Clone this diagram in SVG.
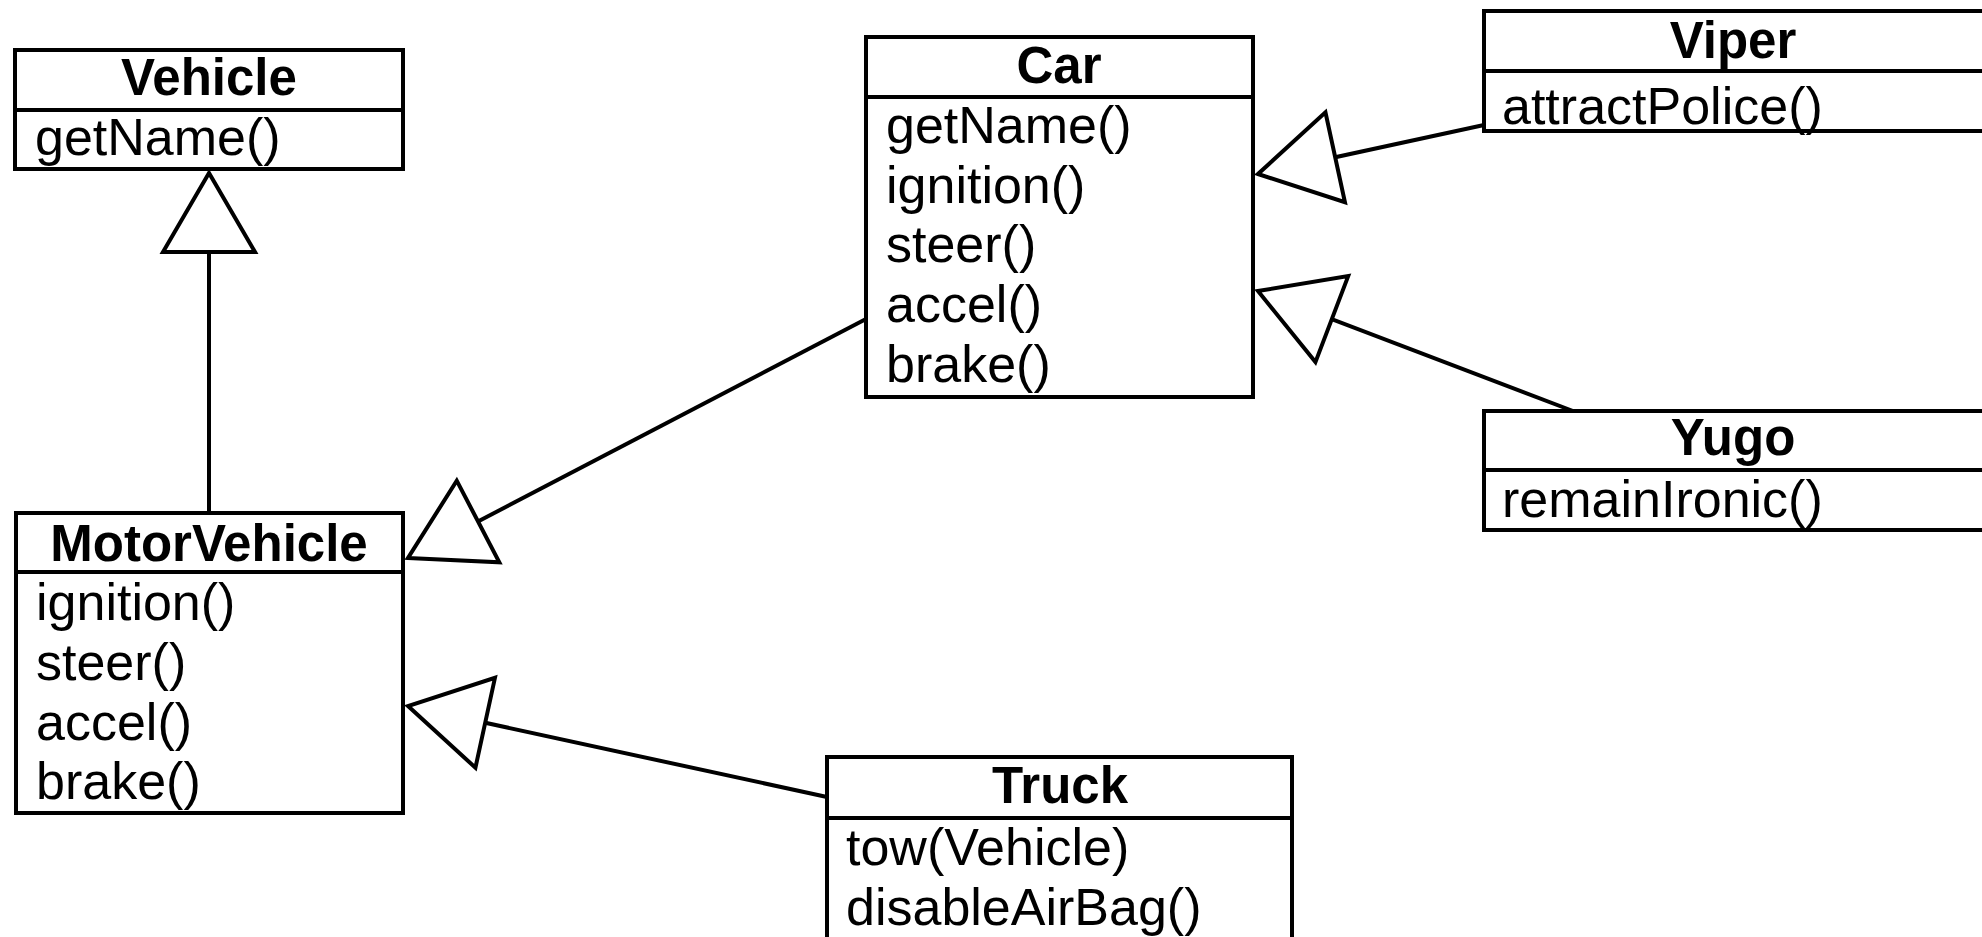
<svg xmlns="http://www.w3.org/2000/svg" width="1982" height="937" viewBox="0 0 1982 937">
  <style>
    .box { fill: #ffffff; stroke: #000000; stroke-width: 4; }
    .sep { stroke: #000000; stroke-width: 4; }
    .title { font-family: "Liberation Sans", Arial, Helvetica, sans-serif; font-weight: bold; font-size: 51px; fill: #000000; text-anchor: middle; }
    .op { font-family: "Liberation Sans", Arial, Helvetica, sans-serif; font-size: 52px; fill: #000000; }
    .link { fill: none; stroke: #000000; stroke-width: 4; marker-end: url(#inherits); }
  </style>
  <defs>
    <!-- hollow generalisation triangle, apex at the line end -->
    <marker id="inherits" markerUnits="userSpaceOnUse" viewBox="-86 -52 92 104" markerWidth="92" markerHeight="104" refX="0" refY="0" orient="auto" overflow="visible">
      <path d="M0,0 L-79,-46 L-79,46 Z" fill="#ffffff" stroke="#000000" stroke-width="4" stroke-linejoin="miter"/>
    </marker>
  </defs>
  <rect x="0" y="0" width="1982" height="937" fill="#ffffff"/>

  <g id="connectors">
    <line class="link" x1="209" y1="513" x2="209" y2="173"/>
    <line class="link" x1="866" y1="319" x2="408" y2="558"/>
    <line class="link" x1="827" y1="797" x2="408" y2="706"/>
    <line class="link" x1="1484" y1="125" x2="1258" y2="174"/>
    <line class="link" x1="1573" y1="411" x2="1258" y2="291"/>
  </g>

  <g id="vehicle">
    <rect class="box" x="15" y="50" width="388" height="119"/>
    <line class="sep" x1="15" y1="110" x2="403" y2="110"/>
    <text class="title" x="209" y="95">Vehicle</text>
    <text class="op" x="35" y="155">getName()</text>
  </g>

  <g id="motorvehicle">
    <rect class="box" x="16" y="513" width="387" height="300"/>
    <line class="sep" x1="16" y1="572" x2="403" y2="572"/>
    <text class="title" x="209" y="561">MotorVehicle</text>
    <text class="op" x="36" y="620">ignition()</text>
    <text class="op" x="36" y="680">steer()</text>
    <text class="op" x="36" y="740">accel()</text>
    <text class="op" x="36" y="799">brake()</text>
  </g>

  <g id="car">
    <rect class="box" x="866" y="37" width="387" height="360"/>
    <line class="sep" x1="866" y1="97" x2="1253" y2="97"/>
    <text class="title" x="1059" y="83">Car</text>
    <text class="op" x="886" y="143">getName()</text>
    <text class="op" x="886" y="203">ignition()</text>
    <text class="op" x="886" y="262">steer()</text>
    <text class="op" x="886" y="322">accel()</text>
    <text class="op" x="886" y="382">brake()</text>
  </g>

  <g id="viper">
    <rect class="box" x="1484" y="11" width="500" height="120"/>
    <line class="sep" x1="1484" y1="71" x2="1984" y2="71"/>
    <text class="title" x="1733" y="58">Viper</text>
    <text class="op" x="1502" y="124">attractPolice()</text>
  </g>

  <g id="yugo">
    <rect class="box" x="1484" y="411" width="500" height="119"/>
    <line class="sep" x1="1484" y1="470" x2="1984" y2="470"/>
    <text class="title" x="1733" y="455">Yugo</text>
    <text class="op" x="1502" y="517">remainIronic()</text>
  </g>

  <g id="truck">
    <rect class="box" x="827" y="757" width="465" height="190"/>
    <line class="sep" x1="827" y1="818" x2="1292" y2="818"/>
    <text class="title" x="1060" y="803">Truck</text>
    <text class="op" x="846" y="865">tow(Vehicle)</text>
    <text class="op" x="846" y="925">disableAirBag()</text>
  </g>
</svg>
